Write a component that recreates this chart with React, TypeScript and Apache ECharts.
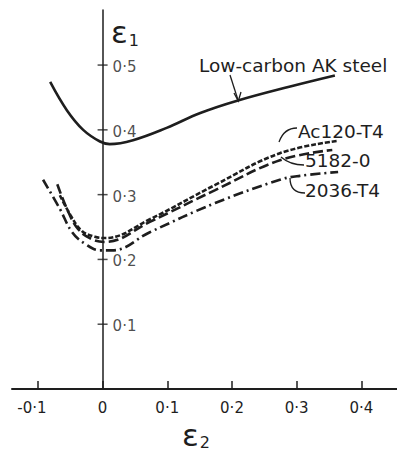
import React, { useEffect, useRef } from "react";
import * as echarts from "echarts";

const xTicks = [-0.1, 0, 0.1, 0.2, 0.3, 0.4];
const yTicks = [0.1, 0.2, 0.3, 0.4, 0.5];

const akX = [-0.081, -0.055, -0.03, -0.004, 0.011, 0.047, 0.099, 0.151, 0.208, 0.29, 0.359];
const akY = [0.474, 0.43, 0.4, 0.382, 0.378, 0.384, 0.403, 0.426, 0.445, 0.467, 0.484];

const acX = [-0.066, -0.05, -0.032, -0.012, 0.004, 0.073, 0.174, 0.274, 0.364];
const acY = [0.299, 0.269, 0.244, 0.235, 0.233, 0.262, 0.315, 0.364, 0.383];

const m5182X = [-0.07, -0.055, -0.038, -0.016, 0.004, 0.073, 0.174, 0.274, 0.355];
const m5182Y = [0.316, 0.278, 0.247, 0.231, 0.227, 0.258, 0.307, 0.353, 0.369];

const t2036X = [-0.092, -0.066, -0.047, -0.027, -0.004, 0.015, 0.073, 0.174, 0.274, 0.305, 0.364];
const t2036Y = [0.323, 0.278, 0.242, 0.224, 0.214, 0.214, 0.242, 0.287, 0.323, 0.329, 0.335];

const seriesNames = ["Low-carbon AK steel", "Ac120-T4", "5182-0", "2036-T4"];

const INK = "#1e1e1e";
const FONT = "DejaVu Sans";

const fmt = (v: number) => (v === 0 ? "0" : v.toFixed(1).replace(".", "·"));
const zip = (xs: number[], ys: number[]) => xs.map((x, i) => [x, ys[i]]);

export default function App() {
  const ref = useRef<HTMLDivElement>(null);
  useEffect(() => {
    document.body.style.margin = "0";
    const chart = echarts.init(ref.current!, null, { renderer: "svg" });
    const lineSeries = (name: string, data: number[][], type: any, width: number) => ({
      name,
      type: "line",
      data,
      smooth: 0.4,
      showSymbol: false,
      lineStyle: { color: INK, width, type },
      z: 3,
    });
    const labelStyle = { fontSize: 18.5, fontFamily: FONT, fill: INK, verticalAlign: "middle" };
    chart.setOption({
      animation: false,
      backgroundColor: "#ffffff",
      grid: { left: 12, right: 0, top: 10, bottom: 62, containLabel: false },
      xAxis: {
        type: "value",
        min: -0.14,
        max: 0.455,
        axisLine: { lineStyle: { color: INK, width: 2 } },
        axisTick: { inside: true, length: 8, lineStyle: { color: INK, width: 1.5 }, customValues: xTicks },
        axisLabel: {
          customValues: xTicks,
          formatter: (v: number) => (v < 0 ? `{n|${fmt(v)}}` : fmt(v)),
          color: INK,
          fontSize: 15,
          fontFamily: FONT,
          margin: 11,
          rich: { n: { fontSize: 15, fontFamily: FONT, color: INK, padding: [0, 12, 0, 0] } },
        },
        splitLine: { show: false },
      },
      yAxis: {
        type: "value",
        min: 0,
        max: 0.585,
        axisLine: { onZero: true, lineStyle: { color: INK, width: 1.5 } },
        axisTick: { show: false },
        axisLabel: { show: false },
        splitLine: { show: false },
      },
      series: [
        lineSeries(seriesNames[0], zip(akX, akY), "solid", 2.6),
        lineSeries(seriesNames[1], zip(acX, acY), [5, 2], 2.6),
        lineSeries(seriesNames[2], zip(m5182X, m5182Y), [10, 4], 2.6),
        lineSeries(seriesNames[3], zip(t2036X, t2036Y), [10, 4, 2, 4], 2.6),
        {
          type: "scatter",
          data: yTicks.map((v) => [0, v]),
          symbol: "rect",
          symbolSize: [10, 1.5],
          itemStyle: { color: INK },
          label: {
            show: true,
            position: "right",
            distance: 5,
            offset: [0, 2],
            formatter: (p: any) => fmt(p.value[1]),
            color: INK,
            fontSize: 15,
            fontFamily: FONT,
          },
          silent: true,
          z: 2,
        },
      ],
      graphic: [
        {
          type: "text",
          left: 111,
          top: 16,
          style: {
            text: "{a|ε}{b|1}",
            fill: INK,
            rich: {
              a: { fontSize: 31, fontFamily: FONT, fill: INK },
              b: { fontSize: 16, fontFamily: FONT, fill: INK, padding: [18, 0, 0, 1] },
            },
          },
        },
        {
          type: "text",
          left: 182,
          top: 419,
          style: {
            text: "{a|ε}{b|2}",
            fill: INK,
            rich: {
              a: { fontSize: 31, fontFamily: FONT, fill: INK },
              b: { fontSize: 16, fontFamily: FONT, fill: INK, padding: [16, 0, 0, 1] },
            },
          },
        },
        { type: "text", x: 199, y: 65, style: { ...labelStyle, text: seriesNames[0] } },
        { type: "text", x: 298, y: 131, style: { ...labelStyle, text: seriesNames[1] } },
        { type: "text", x: 305, y: 160, style: { ...labelStyle, text: seriesNames[2] } },
        { type: "text", x: 305, y: 190, style: { ...labelStyle, text: seriesNames[3] } },
        { type: "line", shape: { x1: 230, y1: 75, x2: 238, y2: 100 }, style: { stroke: INK, lineWidth: 1.3 } },
        { type: "polyline", shape: { points: [[234, 93], [238.3, 101], [241, 92]] }, style: { stroke: INK, lineWidth: 1.3, fill: null } },
        { type: "bezierCurve", shape: { x1: 297, y1: 128, cpx1: 284, cpy1: 128, x2: 279, y2: 142 }, style: { stroke: INK, lineWidth: 1.3, fill: null } },
        { type: "bezierCurve", shape: { x1: 304, y1: 165, cpx1: 290, cpy1: 165, x2: 281, y2: 157 }, style: { stroke: INK, lineWidth: 1.3, fill: null } },
        { type: "bezierCurve", shape: { x1: 305, y1: 193, cpx1: 290, cpy1: 193, x2: 290, y2: 178 }, style: { stroke: INK, lineWidth: 1.3, fill: null } },
      ],
    });
    return () => chart.dispose();
  }, []);
  return <div ref={ref} style={{ width: 397, height: 451 }} />;
}
